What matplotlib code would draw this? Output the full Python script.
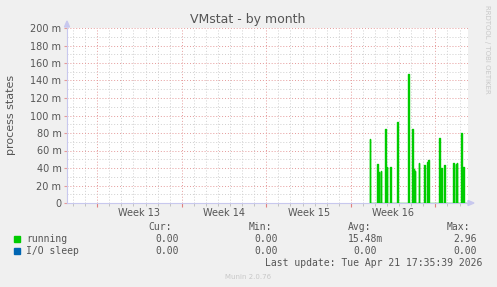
import numpy as np
import matplotlib
matplotlib.use('Agg')
import matplotlib.pyplot as plt
from matplotlib.patches import Rectangle

# x in days from left edge of the graph
week_bounds = [2.5, 9.5, 16.5, 23.5, 30.5]
week_labels = ['Week 13', 'Week 14', 'Week 15', 'Week 16']
week_centers = [6, 13, 20, 27]
x_end = 33.2
data_start = 25.1
data_end = 33.05

# spikes of "running" (days, value in units)
spike_t = [25.10, 25.71, 25.85, 25.99, 26.37, 26.49, 26.79, 27.37, 28.28, 28.61,
           28.75, 28.83, 29.14, 29.60, 29.85, 29.93, 30.84, 31.01, 31.26, 32.00,
           32.20, 32.29, 32.67, 32.83]
spike_v = [0.073, 0.045, 0.036, 0.037, 0.085, 0.041, 0.041, 0.093, 0.148, 0.085,
           0.039, 0.037, 0.046, 0.043, 0.047, 0.049, 0.074, 0.040, 0.043, 0.046,
           0.045, 0.046, 0.080, 0.041]

yticks = [0, 0.02, 0.04, 0.06, 0.08, 0.10, 0.12, 0.14, 0.16, 0.18, 0.20]
ytick_labels = ['0', '20 m', '40 m', '60 m', '80 m', '100 m', '120 m', '140 m',
                '160 m', '180 m', '200 m']

legend_names = ['running', 'I/O sleep']
legend_colors = ['#00CC00', '#0066B3']
cur = ['0.00', '0.00']
mins = ['0.00', '0.00']
avgs = ['15.48m', '0.00']
maxs = ['2.96', '0.00']

# build step series: baseline zero with narrow spikes
half = 0.015
xs = [data_start]
ys = [0]
for t, v in zip(spike_t, spike_v):
    xs += [t - half, t - half, t + half, t + half]
    ys += [0, v, v, 0]
xs.append(data_end)
ys.append(0)

W, H = 497, 287
fig = plt.figure(figsize=(W / 100, H / 100), dpi=100, facecolor='#F0F0F0')
ax = fig.add_axes([67 / W, 1 - 203 / H, 401 / W, 175 / H])
ax.set_facecolor('white')

txt = '#555555'
axcol = '#C8C8EE'
minor_c = '#CFCFCF'
major_c = '#E59A9A'

# grid
for d in np.arange(0.5, x_end, 1.0):
    if any(abs(d - b) < 1e-6 for b in week_bounds):
        continue
    ax.axvline(d, color=minor_c, lw=0.7, ls=(0, (1, 2)), zorder=1)
for b in week_bounds:
    ax.axvline(b, color=major_c, lw=0.7, ls=(0, (1, 2)), zorder=1)
for y in np.arange(0.01, 0.2, 0.02):
    ax.axhline(y, color=minor_c, lw=0.7, ls=(0, (1, 2)), zorder=1)
for y in yticks[1:]:
    ax.axhline(y, color=major_c, lw=0.7, ls=(0, (1, 2)), zorder=1)

ax.plot(xs, ys, color=legend_colors[0], lw=1.0, zorder=3)

ax.set_xlim(0, x_end)
ax.set_ylim(0, 0.2)
ax.set_yticks(yticks)
ax.set_yticklabels(ytick_labels)
ax.set_xticks(week_bounds)
ax.set_xticks(np.arange(0.5, x_end, 1.0), minor=True)
ax.set_xticklabels([])
ax.tick_params(axis='y', length=2, color=major_c, labelsize=7, labelcolor=txt, pad=2)
ax.tick_params(axis='x', which='major', length=3, color='#E08080', direction='out')
ax.tick_params(axis='x', which='minor', length=2, color='#BBBBBB', direction='out')
for lab, c in zip(week_labels, week_centers):
    ax.text(c, -0.0115, lab, ha='center', va='center', fontsize=7, color=txt)

for s in ['top', 'right']:
    ax.spines[s].set_visible(False)
ax.spines['left'].set_color(axcol)
ax.spines['bottom'].set_color(axcol)
ax.spines['left'].set_linewidth(0.8)
ax.spines['bottom'].set_linewidth(0.8)

# axis arrows
fig.patches.append(matplotlib.patches.Polygon(
    [[(64.5) / W, 1 - 27 / H], [(69.5) / W, 1 - 27 / H], [67 / W, 1 - 21 / H]],
    closed=True, transform=fig.transFigure, color=axcol))
fig.patches.append(matplotlib.patches.Polygon(
    [[468 / W, 1 - 200.5 / H], [468 / W, 1 - 205.5 / H], [474 / W, 1 - 203 / H]],
    closed=True, transform=fig.transFigure, color=axcol))

def fx(px):
    return px / W

def fy(py):
    return 1 - py / H

fig.text(fx(248), fy(19), 'VMstat - by month', ha='center', va='center',
         fontsize=9, color=txt)
fig.text(fx(11), fy(115), 'process states', ha='center', va='center',
         rotation=90, fontsize=8, color=txt)
fig.text(fx(487), fy(5), 'RRDTOOL / TOBI OETIKER', ha='center', va='top',
         rotation=270, fontsize=5, color='#C8C8C8')

mono = 'DejaVu Sans Mono'
for lab, px in zip(['Cur:', 'Min:', 'Avg:', 'Max:'], [172, 272, 371, 470]):
    fig.text(fx(px), fy(227), lab, ha='right', va='center', fontsize=7,
             family=mono, color=txt)

rows_y = [239, 251]
for i in range(2):
    y = rows_y[i]
    fig.patches.append(Rectangle((fx(14), fy(y + 3)), 6 / W, 6 / H,
                                 transform=fig.transFigure, color=legend_colors[i]))
    fig.text(fx(26.5), fy(y), legend_names[i], ha='left', va='center', fontsize=7,
             family=mono, color=txt)
    fig.text(fx(179), fy(y), cur[i], ha='right', va='center', fontsize=7,
             family=mono, color=txt)
    fig.text(fx(278), fy(y), mins[i], ha='right', va='center', fontsize=7,
             family=mono, color=txt)
    fig.text(fx(383 if i == 0 else 377), fy(y), avgs[i], ha='right', va='center',
             fontsize=7, family=mono, color=txt)
    fig.text(fx(476.5), fy(y), maxs[i], ha='right', va='center', fontsize=7,
             family=mono, color=txt)

fig.text(fx(482), fy(263), 'Last update: Tue Apr 21 17:35:39 2026', ha='right',
         va='center', fontsize=7, family=mono, color=txt)
fig.text(fx(248), fy(277), 'Munin 2.0.76', ha='center', va='center', fontsize=5,
         color='#C8C8C8')

fig.savefig('out.png', dpi=100, facecolor=fig.get_facecolor())
